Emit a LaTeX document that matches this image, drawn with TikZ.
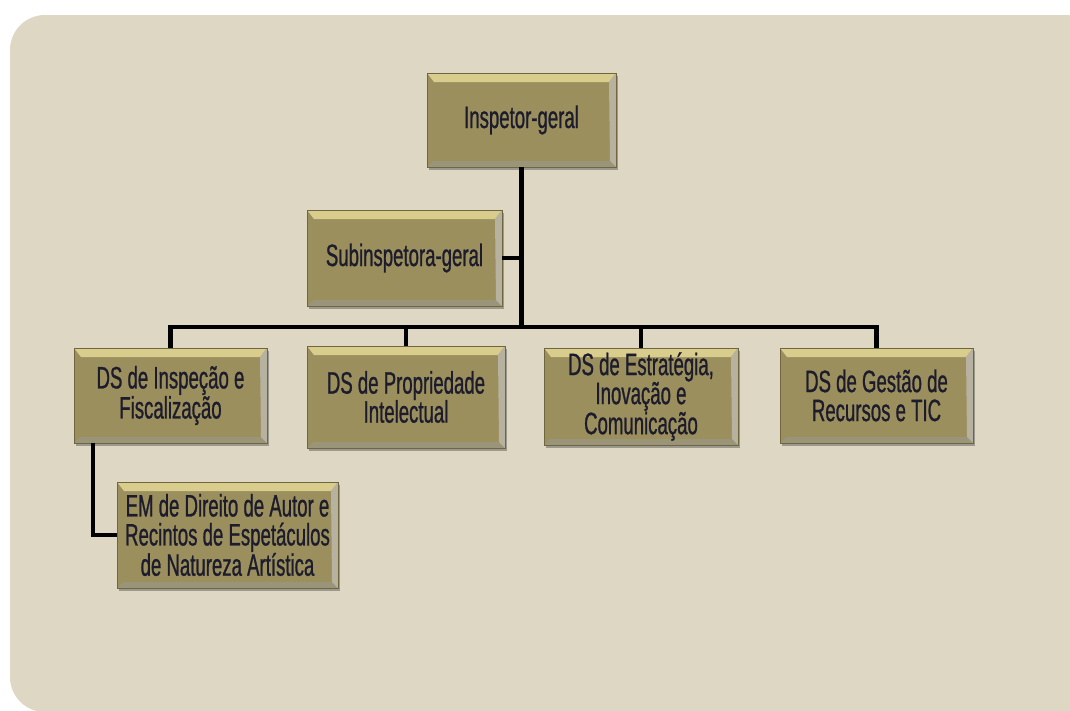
\documentclass[tikz,border=0pt]{standalone}
\usepackage{fontspec}
\setmainfont{Liberation Sans}[FakeStretch=0.6,FakeBold=0.8]
\usetikzlibrary{shadows}
\definecolor{panel}{HTML}{DDD7C3}
\definecolor{boxfill}{HTML}{9B8F5E}
\definecolor{boxtop}{HTML}{D9CD8E}
\definecolor{boxlow}{HTML}{6F6640}
\definecolor{boxtext}{HTML}{1C1C2C}
\tikzset{
  orgbox/.style={fill=boxfill,draw=boxlow,line width=0.6pt,align=center,
    inner sep=2pt,font=\fontsize{31}{29}\selectfont,text=boxtext,
    drop shadow={shadow xshift=2pt,shadow yshift=-3pt,opacity=0.45,fill=black!70},
    path picture={
      \fill[boxtop] (path picture bounding box.north west)
        -- (path picture bounding box.north east)
        -- ([xshift=-7pt,yshift=-9pt]path picture bounding box.north east)
        -- ([xshift=7pt,yshift=-9pt]path picture bounding box.north west) -- cycle;
      \fill[boxlow!70] (path picture bounding box.south west)
        -- (path picture bounding box.south east)
        -- ([xshift=-6pt,yshift=6pt]path picture bounding box.south east)
        -- ([xshift=6pt,yshift=6pt]path picture bounding box.south west) -- cycle;
      \fill[boxlow!50] (path picture bounding box.north east)
        -- ([xshift=-7pt,yshift=-9pt]path picture bounding box.north east)
        -- ([xshift=-6pt,yshift=6pt]path picture bounding box.south east)
        -- (path picture bounding box.south east) -- cycle;
    }},
  link/.style={line width=4.4pt,draw=black,line join=miter}
}
\begin{document}
\begin{tikzpicture}[x=1pt,y=-1pt]
  \useasboundingbox[fill=white] (0,0) rectangle (1070,710);
  \fill[panel,rounded corners=35pt] (10,15) rectangle (1100,712);
  % levels of the chart
  \node[orgbox,minimum width=189pt,minimum height=94pt] (ig) at (521.5,120) {Inspetor-geral};
  \node[orgbox,minimum width=195pt,minimum height=96pt] (sub) at (404.5,258) {Subinspetora-geral};
  \node[orgbox,minimum width=193pt,minimum height=95pt] (dsi) at (170.5,395.5)
    {DS de Inspeção e\\Fiscalização};
  \node[orgbox,minimum width=198pt,minimum height=102pt] (dsp) at (406,397)
    {DS de Propriedade\\Intelectual};
  \node[orgbox,minimum width=194pt,minimum height=97pt] (dse) at (641,396.5)
    {DS de Estratégia,\\Inovação e\\Comunicação};
  \node[orgbox,minimum width=193pt,minimum height=95pt] (dsg) at (876.5,395.5)
    {DS de Gestão de\\Recursos e TIC};
  \node[orgbox,minimum width=221pt,minimum height=106pt] (em) at (227.5,535)
    {EM de Direito de Autor e\\Recintos de Espetáculos\\de Natureza Artística};
  \coordinate (bus) at (523,327);
  % connectors
  \draw[link] (ig.south) -- (ig.south |- bus);
  \draw[link] (sub.east) -- (sub.east -| ig.south);
  \draw[link] (dsi.north) |- (dsg.north |- bus) -- (dsg.north);
  \draw[link] (dsp.north) -- (dsp.north |- bus);
  \draw[link] (dse.north) -- (dse.north |- bus);
  \draw[link] ([xshift=19pt]dsi.south west) |- (em.west);
\end{tikzpicture}
\end{document}
